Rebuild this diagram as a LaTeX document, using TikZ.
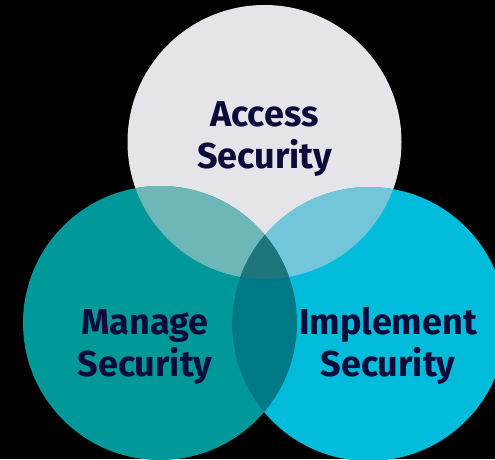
\documentclass[tikz,border=0pt]{standalone}
\usepackage{fontspec}
\setmainfont{Fira Sans}
\definecolor{bg}{HTML}{000000}
\definecolor{cgray}{HTML}{E5E4E9}
\definecolor{cteal}{HTML}{009898}
\definecolor{ccyan}{HTML}{00BCDB}
\definecolor{ctl}{HTML}{6DB7B8}
\definecolor{ctr}{HTML}{73C6DA}
\definecolor{clr}{HTML}{007987}
\definecolor{call}{HTML}{1E767C}
\definecolor{ctext}{HTML}{0B0B3A}
\tikzset{
  lbl/.style={text=ctext, font=\fontsize{36}{42}\selectfont\bfseries, align=center, inner sep=0pt, anchor=base},
}
\begin{document}
\begin{tikzpicture}[x=1pt,y=-1pt]
\useasboundingbox (0,0) rectangle (495,459);
\fill[bg] (0,0) rectangle (495,459);
\clip (0,0) rectangle (495,459);
\def\R{137}
\coordinate (T) at (264.5,142);
\coordinate (L) at (160,323);
\coordinate (Rc) at (369,324);
\fill[cgray] (T) circle[radius=\R];
\fill[cteal] (L) circle[radius=\R];
\fill[ccyan] (Rc) circle[radius=\R];
\begin{scope}
  \clip (T) circle[radius=\R];
  \fill[ctl] (L) circle[radius=\R];
\end{scope}
\begin{scope}
  \clip (T) circle[radius=\R];
  \fill[ctr] (Rc) circle[radius=\R];
\end{scope}
\begin{scope}
  \clip (L) circle[radius=\R];
  \fill[clr] (Rc) circle[radius=\R];
\end{scope}
\begin{scope}
  \clip (T) circle[radius=\R];
  \clip (L) circle[radius=\R];
  \fill[call] (Rc) circle[radius=\R];
\end{scope}
\node[lbl] (access) at (264.5,168) {Access\\Security};
\node[lbl] (manage) at (145,376) {Manage\\Security};
\node[lbl] (implement) at (388,376) {Implement\\Security};
\end{tikzpicture}
\end{document}
